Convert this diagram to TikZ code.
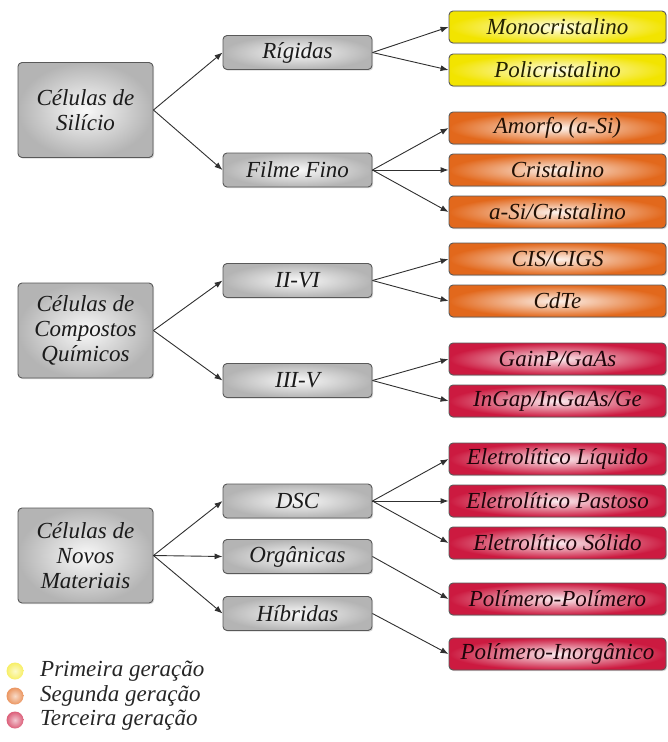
\documentclass[tikz,border=0pt]{standalone}
\usepackage{fontspec}
\setmainfont{Liberation Serif}[ItalicFont={Liberation Serif Italic}]
\usetikzlibrary{arrows.meta, positioning, shadows}
\definecolor{cgrey}{HTML}{B4B4B4}
\definecolor{cyellow}{HTML}{F2E400}
\definecolor{corange}{HTML}{E2681C}
\definecolor{cred}{HTML}{CC1A40}
\definecolor{cline}{HTML}{303030}
\tikzset{
  every picture/.style={font=\rmfamily\itshape\fontsize{23}{25}\selectfont},
  box/.style={draw=black!65, line width=0.9pt, rounded corners=4pt, outer color=#1, inner color=#1!8!white, text=#1!15!black, align=center, inner sep=0pt, drop shadow={shadow xshift=1.2pt, shadow yshift=-1.2pt, opacity=0.3}},
  box/.default=cgrey,
  arrow/.style={-{Latex[length=8pt, width=6pt]}, draw=cline, line width=0.9pt},
  dot/.style={circle, minimum size=17pt, inner sep=0pt, outer color=#1, inner color=#1!35!white},
  note/.style={anchor=west, text=black!85, inner sep=0pt},
}
\begin{document}
\begin{tikzpicture}[x=1pt, y=-1pt,
  cat/.style={box, minimum width=135pt, minimum height=95pt},
  sub/.style={box, minimum width=149pt, minimum height=34pt},
  leaf/.style={box=#1, minimum width=217pt, minimum height=32pt}]
  \useasboundingbox (0,0) rectangle (667,742);
  % main groups
  \node[cat] (sil) at (85.5,110) {Células de\\Silício};
  \node[cat] (comp) at (85.5,330.5) {Células de\\Compostos\\Químicos};
  \node[cat] (novo) at (85.5,555.5) {Células de\\Novos\\Materiais};
  % sub groups
  \node[sub] (rig) at (297.5,52.5) {Rígidas};
  \node[sub] (ff) at (297.5,170) {Filme Fino};
  \node[sub] (iivi) at (297.5,280.5) {II-VI};
  \node[sub] (iiiv) at (297.5,380.5) {III-V};
  \node[sub] (dsc) at (297.5,501) {DSC};
  \node[sub] (org) at (297.5,556.5) {Orgânicas};
  \node[sub] (hib) at (297.5,613.5) {Híbridas};
  % technologies
  \foreach \n/\l/\c/\y in {mono/Monocristalino/cyellow/27, poli/Policristalino/cyellow/70,
      amo/Amorfo (a-Si)/corange/128, cri/Cristalino/corange/170, asi/a-Si\slash Cristalino/corange/212,
      cis/CIS\slash CIGS/corange/259, cdte/CdTe/corange/301,
      gaas/GainP\slash GaAs/cred/359, ge/InGap\slash InGaAs\slash Ge/cred/401,
      liq/Eletrolítico Líquido/cred/459, pas/Eletrolítico Pastoso/cred/501, sol/Eletrolítico Sólido/cred/543,
      pp/Polímero-Polímero/cred/599, pi/Polímero-Inorgânico/cred/654} {
    \node[leaf=\c] (\n) at (557.5,\y) {\l};
  }
  % connectors
  \foreach \a/\b in {sil/rig, sil/ff, comp/iivi, comp/iiiv, novo/dsc, novo/org, novo/hib,
      rig/mono, rig/poli, ff/amo, ff/cri, ff/asi, iivi/cis, iivi/cdte, iiiv/gaas, iiiv/ge,
      dsc/liq, dsc/pas, dsc/sol, org/pp, hib/pi} {
    \draw[arrow] (\a.east) -- (\b.west);
  }
  % legend
  \node[dot=cyellow!60!white] (g1) at (15,671) {};
  \node[dot=corange!70!white] (g2) at (15,696) {};
  \node[dot=cred!70!white] (g3) at (15,720) {};
  \node[note] (t1) at (40,671) {Primeira geração};
  \node[note] (t2) at (40,696) {Segunda geração};
  \node[note] (t3) at (40,720) {Terceira geração};
\end{tikzpicture}
\end{document}
